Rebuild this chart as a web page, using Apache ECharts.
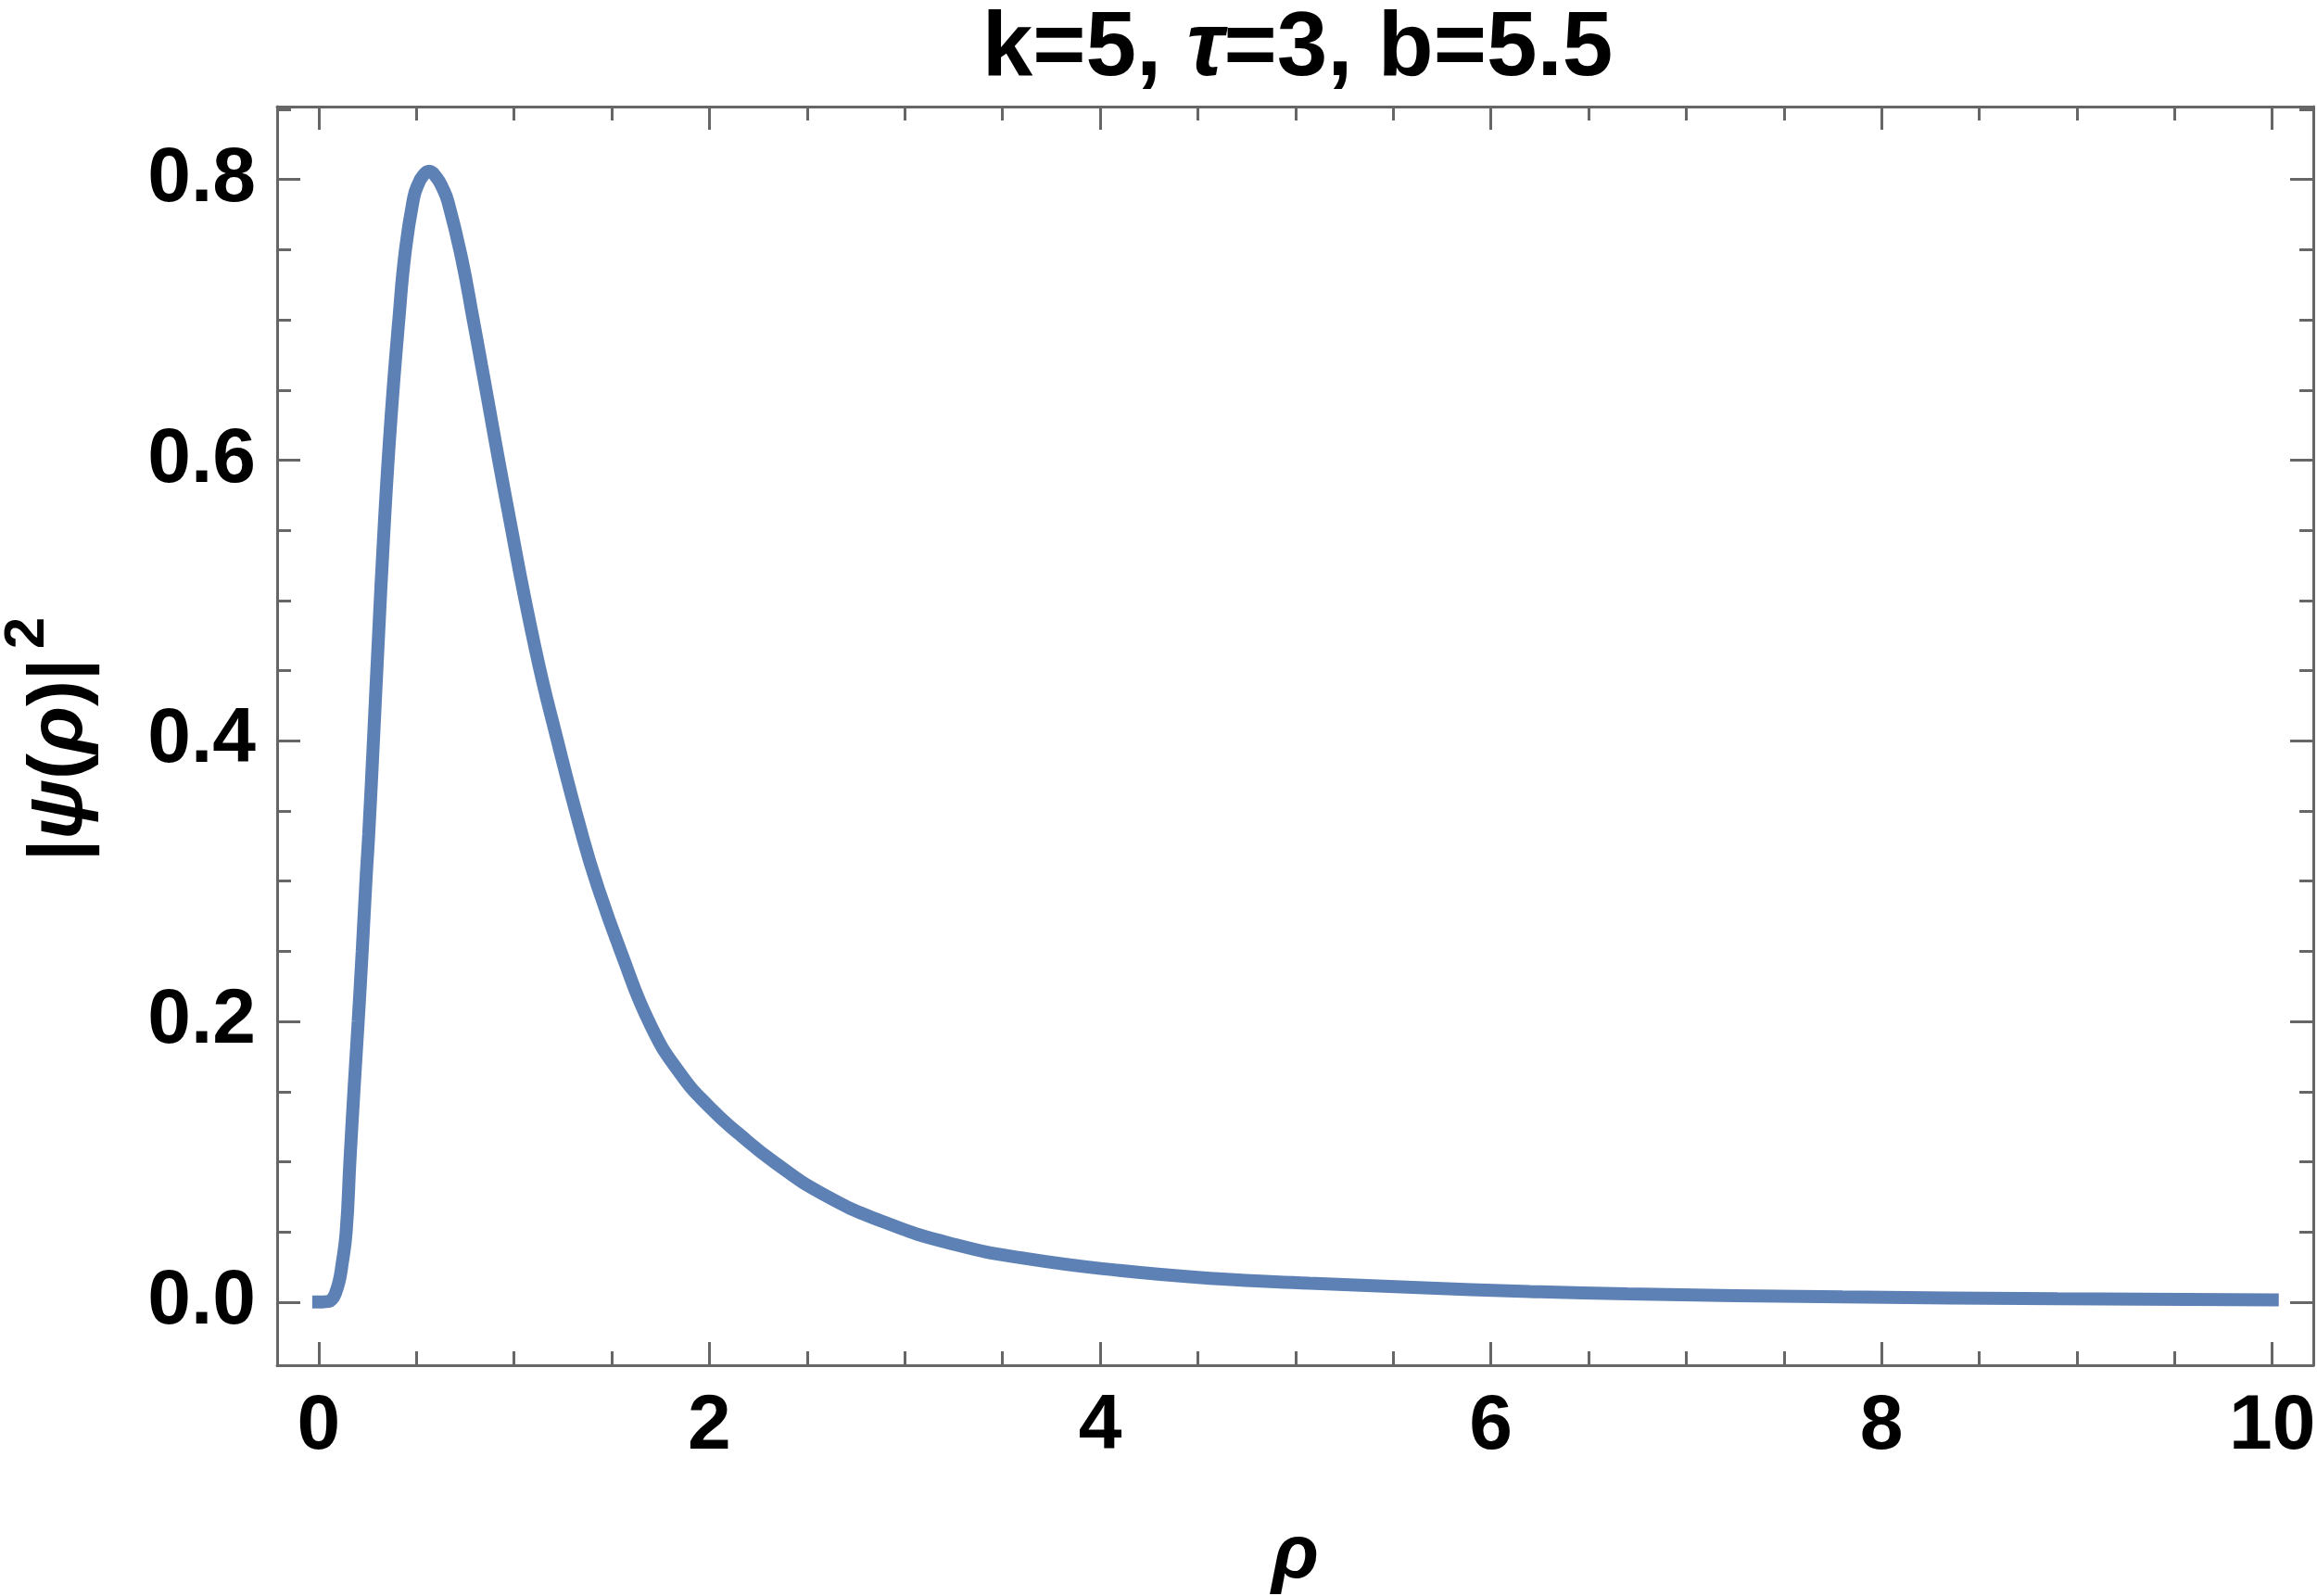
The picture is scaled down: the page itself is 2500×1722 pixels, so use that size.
<!DOCTYPE html>
<html lang="en">
<head>
<meta charset="UTF-8">
<title>|psi(rho)|^2</title>
<script src="https://cdn.jsdelivr.net/npm/echarts@6.0.0/dist/echarts.min.js"></script>
<style>
html, body { margin: 0; padding: 0; background: #fff; }
</style>
</head>
<body>
<div id="main" style="width: 2500px;height:1722px;"></div>
<script type="text/javascript">
// curve: rho and |psi(rho)|^2
const rho = [0, 0.05, 0.07, 0.084, 0.104, 0.118, 0.1405, 0.1595, 0.18, 0.202, 0.2226, 0.2416, 0.256,
  0.28, 0.303, 0.336, 0.37, 0.41, 0.444, 0.486, 0.507, 0.535, 0.565, 0.60, 0.634, 0.662, 0.73, 0.791,
  0.833, 0.968, 1.108, 1.222, 1.347, 1.426, 1.546, 1.70, 1.85, 2.0, 2.15, 2.339, 2.581, 2.894,
  3.257, 3.62, 4.1, 4.585, 5.07, 5.6, 6.2, 6.7, 7.8, 8.9, 10];
const psi2 = [0, 0.0005, 0.0024, 0.0057, 0.0145, 0.0255, 0.05, 0.10, 0.15, 0.20, 0.25, 0.30, 0.3335,
  0.40, 0.466, 0.555, 0.63, 0.70, 0.75, 0.787, 0.796, 0.803, 0.806, 0.802, 0.794, 0.784, 0.745, 0.70,
  0.668, 0.565, 0.466, 0.40, 0.3335, 0.297, 0.25, 0.197, 0.163, 0.139, 0.12, 0.099, 0.077, 0.057,
  0.041, 0.031, 0.0225, 0.0168, 0.0135, 0.0105, 0.0075, 0.0058, 0.0037, 0.0024, 0.0016];

// tick positions
const xMajor = [0, 2, 4, 6, 8, 10];
const xMinor = [0.5, 1, 1.5, 2.5, 3, 3.5, 4.5, 5, 5.5, 6.5, 7, 7.5, 8.5, 9, 9.5];
const yMajor = [0, 0.2, 0.4, 0.6, 0.8];
const yMinor = [0.05, 0.1, 0.15, 0.25, 0.3, 0.35, 0.45, 0.5, 0.55, 0.65, 0.7, 0.75, 0.85];

const frameColor = '#666666';
const fontFam = '"Liberation Sans", Arial, sans-serif';
const xRange = { min: -0.213, max: 10.21 };
const yRange = { min: -0.045, max: 0.852 };

function frameAxis(position, ticks, len, withLine, labels, extra) {
  return Object.assign({
    type: 'value',
    position: position,
    scale: true,
    splitLine: { show: false },
    axisLine: { show: withLine, onZero: false, lineStyle: { color: frameColor, width: 3 } },
    axisTick: { show: true, inside: true, length: len, customValues: ticks,
      lineStyle: { color: frameColor, width: 3 } },
    axisLabel: labels ? Object.assign({ show: true, customValues: ticks, color: '#000',
      fontFamily: fontFam, fontWeight: 'bold', fontSize: 84 }, labels) : { show: false }
  }, extra);
}

let myChart = echarts.init(document.getElementById('main'));

let options = {
  backgroundColor: '#fff',
  animation: false,
  grid: { left: 299, right: 4, top: 115, bottom: 249, containLabel: false, outerBoundsMode: 'none' },
  xAxis: [
    frameAxis('bottom', xMajor, 25, true, { margin: 25, formatter: v => String(v) },
      Object.assign({ name: 'ρ', nameLocation: 'middle', nameGap: 165,
        nameTextStyle: { fontFamily: fontFam, fontSize: 84, fontWeight: 'bold', fontStyle: 'italic', color: '#000' } }, xRange)),
    frameAxis('bottom', xMinor, 15, false, null, xRange),
    frameAxis('top', xMajor, 25, true, null, xRange),
    frameAxis('top', xMinor, 15, false, null, xRange)
  ],
  yAxis: [
    frameAxis('left', yMajor, 25, true, { margin: 23, formatter: v => v.toFixed(1) }, yRange),
    frameAxis('left', yMinor, 15, false, null, yRange),
    frameAxis('right', yMajor, 25, true, null, yRange),
    frameAxis('right', yMinor, 15, false, null, yRange)
  ],
  graphic: [
    {
      type: 'text', x: 1400, y: 54,
      style: {
        text: '{n|k=5, }{i|τ}{n|=3, b=5.5}',
        align: 'center', verticalAlign: 'middle',
        rich: {
          n: { fontFamily: fontFam, fontSize: 98, fontWeight: 'bold', fill: '#000' },
          i: { fontFamily: fontFam, fontSize: 98, fontWeight: 'bold', fontStyle: 'italic', fill: '#000' }
        }
      }
    },
    // y axis name, rotated to read upwards
    {
      type: 'text', x: 66, y: 820, rotation: Math.PI / 2,
      style: {
        text: '{n||}{i|ψ}{n|(}{i|ρ}{n|)|}',
        align: 'center', verticalAlign: 'middle',
        rich: {
          n: { fontFamily: fontFam, fontSize: 84, fontWeight: 'bold', fill: '#000' },
          i: { fontFamily: fontFam, fontSize: 84, fontWeight: 'bold', fontStyle: 'italic', fill: '#000' }
        }
      }
    },
    {
      type: 'text', x: 30, y: 683, rotation: Math.PI / 2,
      style: {
        text: '2', align: 'center', verticalAlign: 'middle',
        fontFamily: fontFam, fontSize: 62, fontWeight: 'bold', fill: '#000'
      }
    }
  ],
  series: [{
    type: 'line',
    xAxisIndex: 0,
    yAxisIndex: 0,
    data: rho.map((r, i) => [r, psi2[i]]),
    showSymbol: false,
    smooth: 0.5,
    lineStyle: { color: '#5E81B5', width: 14, cap: 'square' }
  }]
};

myChart.setOption(options);
</script>
</body>
</html>
